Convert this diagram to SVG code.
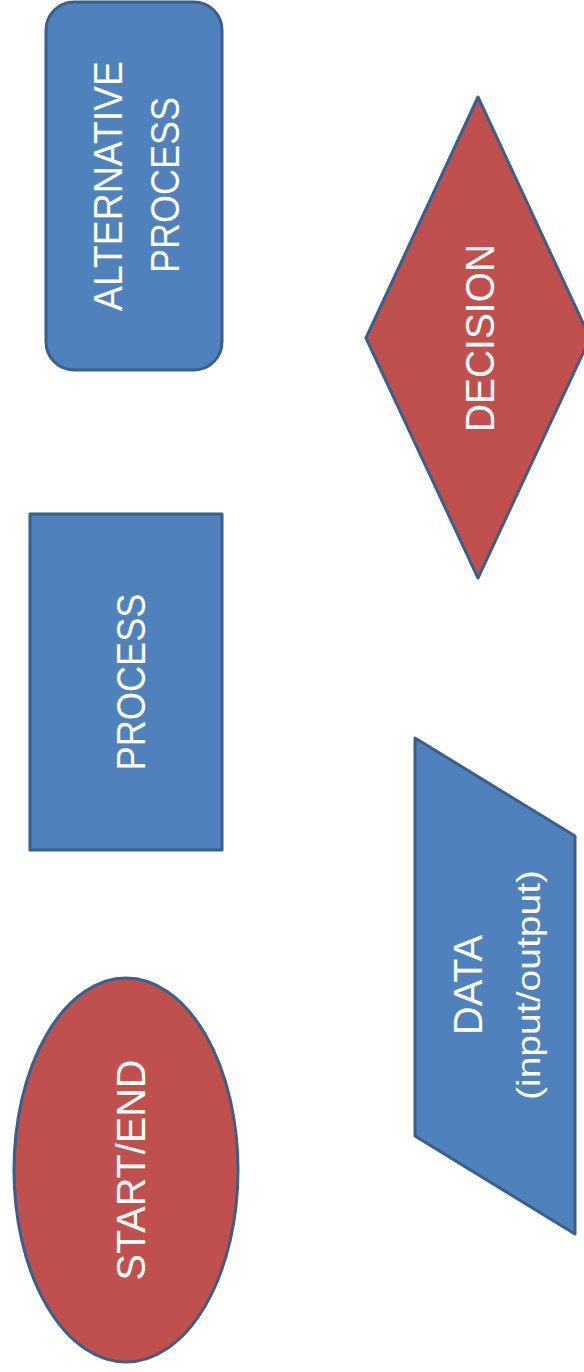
<svg xmlns="http://www.w3.org/2000/svg" width="584" height="1372" viewBox="0 0 584 1372">
  <style>
    .blue { fill: #4F81BD; stroke: #3A5F8B; stroke-width: 3; stroke-linejoin: round; }
    .red { fill: #C0504D; stroke: #3A5F8B; stroke-width: 3; stroke-linejoin: round; }
    .lbl { fill: #FFFFFF; font-family: "Liberation Sans", Arial, sans-serif; font-size: 41px; text-anchor: middle; }
    .sub { fill: #FFFFFF; font-family: "Liberation Sans", Arial, sans-serif; font-size: 34px; text-anchor: middle; }
  </style>
  <rect width="584" height="1372" fill="#FFFFFF"/>
  <g id="connectors"></g>
  <g id="alternative-process">
    <rect class="blue" x="46" y="2" width="176" height="368" rx="28" ry="28"/>
    <text class="lbl" transform="translate(122,186) rotate(-90)" textLength="250" lengthAdjust="spacingAndGlyphs">ALTERNATIVE</text>
    <text class="lbl" transform="translate(179,185) rotate(-90)" textLength="176" lengthAdjust="spacingAndGlyphs">PROCESS</text>
  </g>
  <g id="decision">
    <polygon class="red" points="478,97 590,338 478,578 366,338"/>
    <text class="lbl" transform="translate(494,338) rotate(-90)" textLength="188" lengthAdjust="spacingAndGlyphs">DECISION</text>
  </g>
  <g id="process">
    <rect class="blue" x="30" y="514" width="192" height="336"/>
    <text class="lbl" transform="translate(145,682) rotate(-90)" textLength="177" lengthAdjust="spacingAndGlyphs">PROCESS</text>
  </g>
  <g id="data">
    <polygon class="blue" points="415,738 575,836 575,1234 415,1136"/>
    <text class="lbl" transform="translate(482,985) rotate(-90)" textLength="100" lengthAdjust="spacingAndGlyphs">DATA</text>
    <text class="sub" transform="translate(540,985) rotate(-90)" textLength="230" lengthAdjust="spacingAndGlyphs">(input/output)</text>
  </g>
  <g id="start-end">
    <ellipse class="red" cx="126" cy="1170" rx="112" ry="192"/>
    <text class="lbl" transform="translate(145,1170) rotate(-90)" textLength="221" lengthAdjust="spacingAndGlyphs">START/END</text>
  </g>
</svg>
